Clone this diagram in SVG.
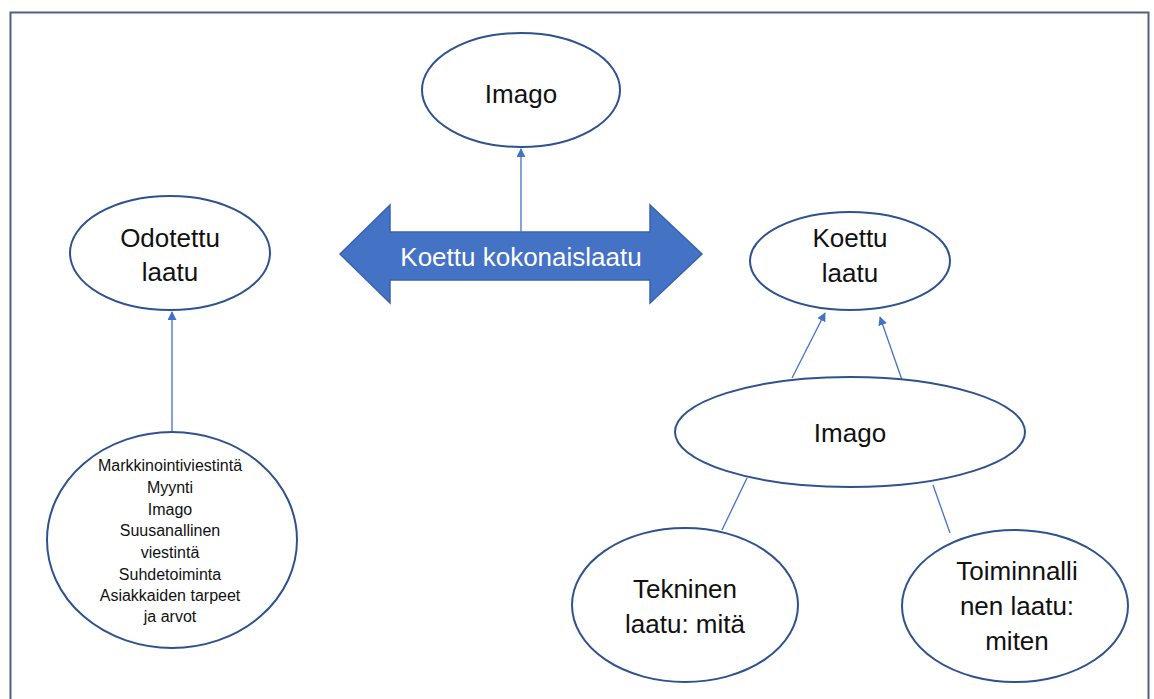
<svg xmlns="http://www.w3.org/2000/svg" width="1154" height="699" viewBox="0 0 1154 699">
<style>
.node ellipse{fill:#fff;stroke:#2F528F;stroke-width:2}
.t{font-family:"Liberation Sans",Arial,sans-serif;fill:#111;text-anchor:middle}
.big{font-size:26px}
.small{font-size:16px}
.conn line{stroke:#4472C4;stroke-width:1.3}
</style>
<defs>
<marker id="ah" viewBox="0 0 10 10" refX="9" refY="5" markerWidth="9" markerHeight="9" markerUnits="userSpaceOnUse" orient="auto">
<path d="M0,0 L10,5 L0,10 z" fill="#4472C4"/>
</marker>
</defs>
<rect width="1154" height="699" fill="#fff"/>
<path d="M10.5,705 V12.5 H1148.5 V705" fill="none" stroke="#4F6182" stroke-width="2"/>

<g id="arrow-koettu-kokonaislaatu">
<path d="M340,254 L390,205 L390,232 L650,232 L650,205 L702,254 L650,303 L650,280 L390,280 L390,303 z" fill="#4472C4" stroke="#3A63AE" stroke-width="1.5"/>
<text class="t" x="521" y="266" font-size="26" style="fill:#fff">Koettu kokonaislaatu</text>
</g>

<g class="conn" id="connectors">
<line x1="521" y1="232" x2="521" y2="149" marker-end="url(#ah)"/>
<line x1="172" y1="432" x2="172" y2="312" marker-end="url(#ah)"/>
<line x1="792" y1="378" x2="825" y2="313" marker-end="url(#ah)"/>
<line x1="902" y1="380" x2="880" y2="317" marker-end="url(#ah)"/>
<line x1="747" y1="478" x2="722" y2="530"/>
<line x1="933" y1="485" x2="950" y2="533"/>
</g>

<g class="node" id="imago-top">
<ellipse cx="521" cy="90" rx="99" ry="57"/>
<text class="t big" x="521" y="103">Imago</text>
</g>

<g class="node" id="odotettu-laatu">
<ellipse cx="170" cy="253" rx="100" ry="57"/>
<text class="t big" x="170" y="247">Odotettu</text>
<text class="t big" x="170" y="281">laatu</text>
</g>

<g class="node" id="tekijat">
<ellipse cx="172" cy="540" rx="125" ry="108"/>
<text class="t small" x="170" y="471">Markkinointiviestintä</text>
<text class="t small" x="170" y="493">Myynti</text>
<text class="t small" x="170" y="515">Imago</text>
<text class="t small" x="170" y="536">Suusanallinen</text>
<text class="t small" x="170" y="558">viestintä</text>
<text class="t small" x="170" y="580">Suhdetoiminta</text>
<text class="t small" x="170" y="601">Asiakkaiden tarpeet</text>
<text class="t small" x="170" y="622">ja arvot</text>
</g>

<g class="node" id="koettu-laatu">
<ellipse cx="850" cy="261" rx="100" ry="49"/>
<text class="t big" x="850" y="247">Koettu</text>
<text class="t big" x="850" y="282">laatu</text>
</g>

<g class="node" id="imago-right">
<ellipse cx="850" cy="432" rx="175" ry="55"/>
<text class="t big" x="850" y="442">Imago</text>
</g>

<g class="node" id="tekninen-laatu">
<ellipse cx="685" cy="605" rx="113" ry="77"/>
<text class="t big" x="685" y="598">Tekninen</text>
<text class="t big" x="685" y="633">laatu: mitä</text>
</g>

<g class="node" id="toiminnallinen-laatu">
<ellipse cx="1015" cy="606" rx="113" ry="76"/>
<text class="t big" x="1017" y="580">Toiminnalli</text>
<text class="t big" x="1017" y="615">nen laatu:</text>
<text class="t big" x="1017" y="650">miten</text>
</g>
</svg>
